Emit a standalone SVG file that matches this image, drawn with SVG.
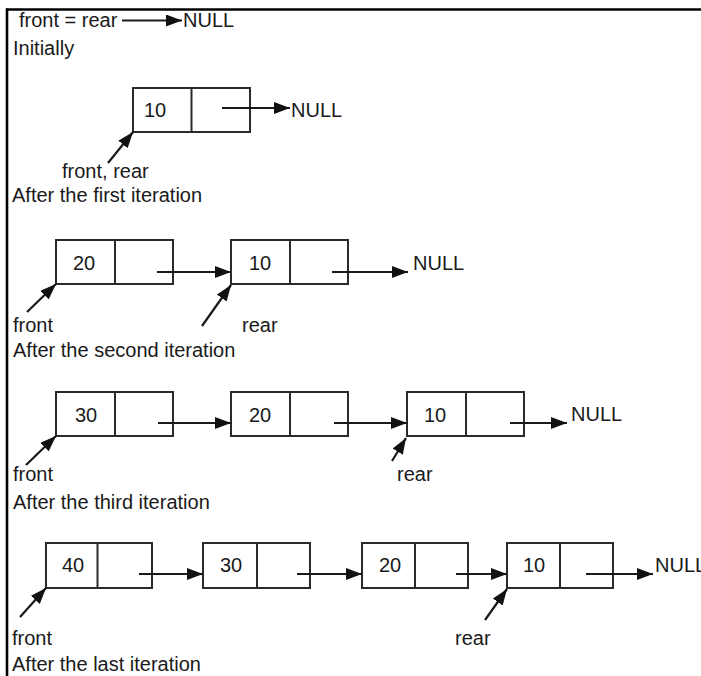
<svg xmlns="http://www.w3.org/2000/svg" width="701" height="676" viewBox="0 0 701 676">
<defs>
<style>
text{font-family:"Liberation Sans",Arial,sans-serif;font-size:20px;fill:#1a1a1a}
.box{fill:#fff;stroke:#2a2a2a;stroke-width:2}
.div{stroke:#2a2a2a;stroke-width:2}
.ln{stroke:#1a1a1a;stroke-width:2.2;fill:none;marker-end:url(#ah)}
.frame{stroke:#000;stroke-width:2.6}
</style>
<marker id="ah" viewBox="0 0 16 12" refX="16" refY="6" markerWidth="16" markerHeight="12" markerUnits="userSpaceOnUse" orient="auto">
<path d="M0,0 L16,6 L0,12 Z" fill="#111"/>
</marker>
</defs>
<rect width="701" height="676" fill="#fff"/>
<g id="frame">
<line class="frame" x1="6" y1="9.5" x2="701" y2="9.5"/>
<line class="frame" x1="7" y1="8.5" x2="7" y2="676"/>
</g>
<g id="labels">
<text x="19" y="27">front = rear</text>
<text x="183" y="27">NULL</text>
<text x="13" y="55">Initially</text>
<text x="291" y="117">NULL</text>
<text x="62" y="178">front, rear</text>
<text x="12" y="202">After the first iteration</text>
<text x="413" y="270">NULL</text>
<text x="13" y="332">front</text>
<text x="242" y="332">rear</text>
<text x="13" y="357">After the second iteration</text>
<text x="571" y="421">NULL</text>
<text x="13" y="481">front</text>
<text x="397" y="481">rear</text>
<text x="13" y="509">After the third iteration</text>
<text x="655" y="572">NULL</text>
<text x="12" y="645">front</text>
<text x="455" y="645">rear</text>
<text x="12" y="671">After the last iteration</text>
</g>
<g id="r1-n10"><rect class="box" x="133" y="88" width="117" height="44"/><line class="div" x1="191.5" y1="88" x2="191.5" y2="132"/><text x="144" y="117">10</text></g>
<g id="r2-n20"><rect class="box" x="56" y="240" width="117" height="44"/><line class="div" x1="115" y1="240" x2="115" y2="284"/><text x="73" y="270">20</text></g>
<g id="r2-n10"><rect class="box" x="231" y="240" width="117" height="44"/><line class="div" x1="290" y1="240" x2="290" y2="284"/><text x="249" y="270">10</text></g>
<g id="r3-n30"><rect class="box" x="56" y="392" width="117" height="44"/><line class="div" x1="115" y1="392" x2="115" y2="436"/><text x="75" y="422">30</text></g>
<g id="r3-n20"><rect class="box" x="231" y="392" width="117" height="44"/><line class="div" x1="290" y1="392" x2="290" y2="436"/><text x="249" y="422">20</text></g>
<g id="r3-n10"><rect class="box" x="407" y="392" width="117" height="44"/><line class="div" x1="466" y1="392" x2="466" y2="436"/><text x="424" y="422">10</text></g>
<g id="r4-n40"><rect class="box" x="46" y="543" width="106" height="45"/><line class="div" x1="97.5" y1="543" x2="97.5" y2="588"/><text x="62" y="572">40</text></g>
<g id="r4-n30"><rect class="box" x="203" y="543" width="107" height="45"/><line class="div" x1="257" y1="543" x2="257" y2="588"/><text x="220" y="572">30</text></g>
<g id="r4-n20"><rect class="box" x="362" y="543" width="106" height="45"/><line class="div" x1="415" y1="543" x2="415" y2="588"/><text x="379" y="572">20</text></g>
<g id="r4-n10"><rect class="box" x="507" y="543" width="106" height="45"/><line class="div" x1="560" y1="543" x2="560" y2="588"/><text x="523" y="572">10</text></g>
<g id="connectors">
<line class="ln" x1="122" y1="20.5" x2="182" y2="20.5"/>
<line class="ln" x1="222" y1="108" x2="290" y2="108"/>
<line class="ln" x1="108" y1="163" x2="133" y2="132"/>
<line class="ln" x1="157" y1="272" x2="231" y2="272"/>
<line class="ln" x1="332" y1="272" x2="408" y2="272"/>
<line class="ln" x1="27" y1="312" x2="56" y2="284"/>
<line class="ln" x1="202" y1="326" x2="231" y2="285"/>
<line class="ln" x1="158" y1="423" x2="231" y2="423"/>
<line class="ln" x1="334" y1="423" x2="407" y2="423"/>
<line class="ln" x1="510" y1="423" x2="567" y2="423"/>
<line class="ln" x1="26" y1="465" x2="56" y2="436"/>
<line class="ln" x1="392" y1="461" x2="406" y2="438"/>
<line class="ln" x1="139" y1="574" x2="203" y2="574"/>
<line class="ln" x1="297" y1="574" x2="362" y2="574"/>
<line class="ln" x1="456" y1="574" x2="507" y2="574"/>
<line class="ln" x1="586" y1="574" x2="653" y2="574"/>
<line class="ln" x1="20" y1="617" x2="46" y2="588"/>
<line class="ln" x1="485" y1="620" x2="507" y2="589"/>
</g>
</svg>
